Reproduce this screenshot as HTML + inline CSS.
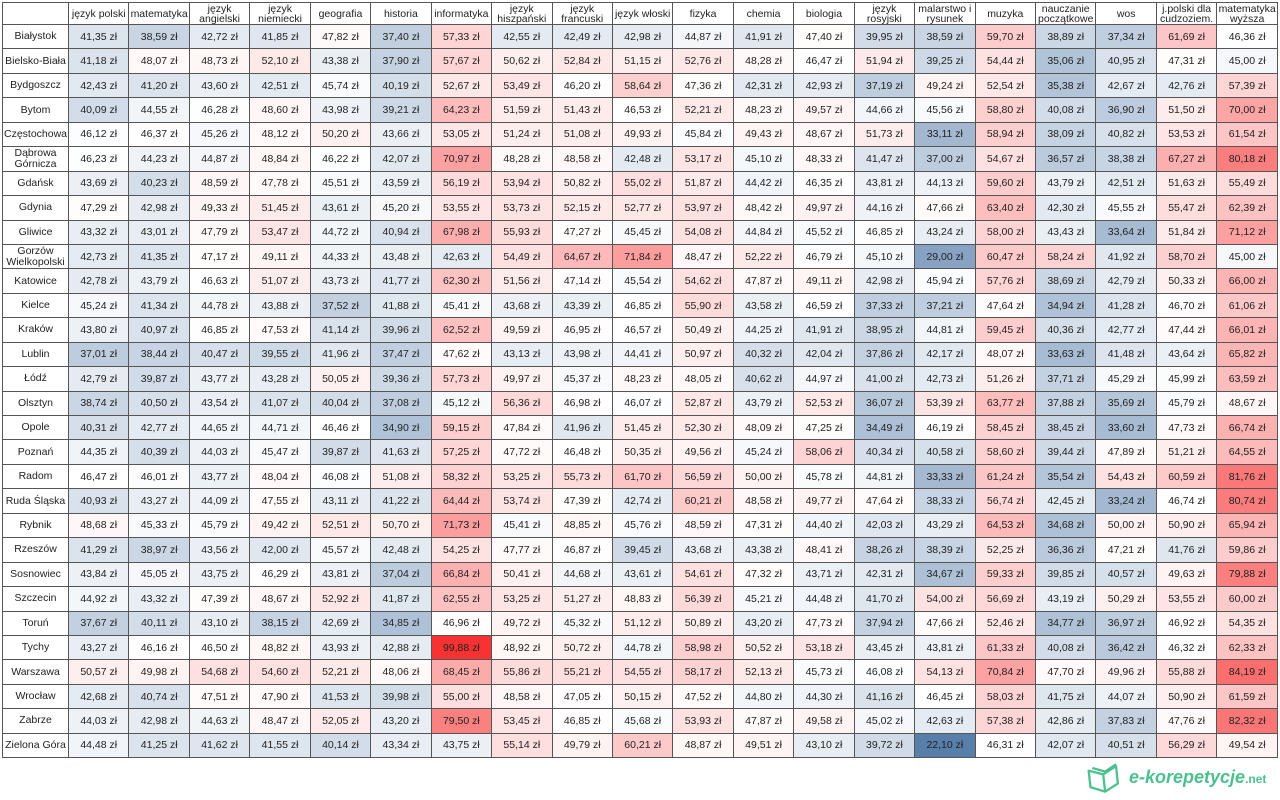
<!DOCTYPE html>
<html><head><meta charset="utf-8">
<style>
html,body{margin:0;padding:0;background:#fff;width:1280px;height:800px;overflow:hidden;font-family:"Liberation Sans",sans-serif;}
table{position:absolute;left:2px;top:2px;width:1276px;border-collapse:collapse;table-layout:fixed;font-size:10.5px;color:#222;}
td,th{border:1px solid #555;text-align:center;padding:0;overflow:hidden;white-space:nowrap;}
th{font-weight:normal;height:21px;line-height:10px;white-space:normal;font-size:10.5px;}
td{height:23.45px;}
td:first-child{font-size:10.5px;line-height:11px;white-space:normal;}
col.c0{width:66px}
.logo{position:absolute;left:1085px;top:760px;width:195px;height:36px;}
.logo .t{position:absolute;left:44px;top:7px;font-size:18px;font-weight:bold;font-style:italic;color:#4cc08f;white-space:nowrap;}
.logo .t span{font-size:12px;font-style:normal;}
</style></head><body>
<table id="t">
<colgroup><col class="c0"><col span="20"></colgroup>
<tr><th></th><th>język polski</th><th>matematyka</th><th>język angielski</th><th>język niemiecki</th><th>geografia</th><th>historia</th><th>informatyka</th><th>język hiszpański</th><th>język francuski</th><th>język włoski</th><th>fizyka</th><th>chemia</th><th>biologia</th><th>język rosyjski</th><th>malarstwo i rysunek</th><th>muzyka</th><th>nauczanie początkowe</th><th>wos</th><th>j.polski dla cudzoziem.</th><th>matematyka wyższa</th></tr>
<tr><td>Białystok</td><td>41,35 zł</td><td>38,59 zł</td><td>42,72 zł</td><td>41,85 zł</td><td>47,82 zł</td><td>37,40 zł</td><td>57,33 zł</td><td>42,55 zł</td><td>42,49 zł</td><td>42,98 zł</td><td>44,87 zł</td><td>41,91 zł</td><td>47,40 zł</td><td>39,95 zł</td><td>38,59 zł</td><td>59,70 zł</td><td>38,89 zł</td><td>37,34 zł</td><td>61,69 zł</td><td>46,36 zł</td></tr>
<tr><td>Bielsko-Biała</td><td>41,18 zł</td><td>48,07 zł</td><td>48,73 zł</td><td>52,10 zł</td><td>43,38 zł</td><td>37,90 zł</td><td>57,67 zł</td><td>50,62 zł</td><td>52,84 zł</td><td>51,15 zł</td><td>52,76 zł</td><td>48,28 zł</td><td>46,47 zł</td><td>51,94 zł</td><td>39,25 zł</td><td>54,44 zł</td><td>35,06 zł</td><td>40,95 zł</td><td>47,31 zł</td><td>45,00 zł</td></tr>
<tr><td>Bydgoszcz</td><td>42,43 zł</td><td>41,20 zł</td><td>43,60 zł</td><td>42,51 zł</td><td>45,74 zł</td><td>40,19 zł</td><td>52,67 zł</td><td>53,49 zł</td><td>46,20 zł</td><td>58,64 zł</td><td>47,36 zł</td><td>42,31 zł</td><td>42,93 zł</td><td>37,19 zł</td><td>49,24 zł</td><td>52,54 zł</td><td>35,38 zł</td><td>42,67 zł</td><td>42,76 zł</td><td>57,39 zł</td></tr>
<tr><td>Bytom</td><td>40,09 zł</td><td>44,55 zł</td><td>46,28 zł</td><td>48,60 zł</td><td>43,98 zł</td><td>39,21 zł</td><td>64,23 zł</td><td>51,59 zł</td><td>51,43 zł</td><td>46,53 zł</td><td>52,21 zł</td><td>48,23 zł</td><td>49,57 zł</td><td>44,66 zł</td><td>45,56 zł</td><td>58,80 zł</td><td>40,08 zł</td><td>36,90 zł</td><td>51,50 zł</td><td>70,00 zł</td></tr>
<tr><td>Częstochowa</td><td>46,12 zł</td><td>46,37 zł</td><td>45,26 zł</td><td>48,12 zł</td><td>50,20 zł</td><td>43,66 zł</td><td>53,05 zł</td><td>51,24 zł</td><td>51,08 zł</td><td>49,93 zł</td><td>45,84 zł</td><td>49,43 zł</td><td>48,67 zł</td><td>51,73 zł</td><td>33,11 zł</td><td>58,94 zł</td><td>38,09 zł</td><td>40,82 zł</td><td>53,53 zł</td><td>61,54 zł</td></tr>
<tr><td>Dąbrowa Górnicza</td><td>46,23 zł</td><td>44,23 zł</td><td>44,87 zł</td><td>48,84 zł</td><td>46,22 zł</td><td>42,07 zł</td><td>70,97 zł</td><td>48,28 zł</td><td>48,58 zł</td><td>42,48 zł</td><td>53,17 zł</td><td>45,10 zł</td><td>48,33 zł</td><td>41,47 zł</td><td>37,00 zł</td><td>54,67 zł</td><td>36,57 zł</td><td>38,38 zł</td><td>67,27 zł</td><td>80,18 zł</td></tr>
<tr><td>Gdańsk</td><td>43,69 zł</td><td>40,23 zł</td><td>48,59 zł</td><td>47,78 zł</td><td>45,51 zł</td><td>43,59 zł</td><td>56,19 zł</td><td>53,94 zł</td><td>50,82 zł</td><td>55,02 zł</td><td>51,87 zł</td><td>44,42 zł</td><td>46,35 zł</td><td>43,81 zł</td><td>44,13 zł</td><td>59,60 zł</td><td>43,79 zł</td><td>42,51 zł</td><td>51,63 zł</td><td>55,49 zł</td></tr>
<tr><td>Gdynia</td><td>47,29 zł</td><td>42,98 zł</td><td>49,33 zł</td><td>51,45 zł</td><td>43,61 zł</td><td>45,20 zł</td><td>53,55 zł</td><td>53,73 zł</td><td>52,15 zł</td><td>52,77 zł</td><td>53,97 zł</td><td>48,42 zł</td><td>49,97 zł</td><td>44,16 zł</td><td>47,66 zł</td><td>63,40 zł</td><td>42,30 zł</td><td>45,55 zł</td><td>55,47 zł</td><td>62,39 zł</td></tr>
<tr><td>Gliwice</td><td>43,32 zł</td><td>43,01 zł</td><td>47,79 zł</td><td>53,47 zł</td><td>44,72 zł</td><td>40,94 zł</td><td>67,98 zł</td><td>55,93 zł</td><td>47,27 zł</td><td>45,45 zł</td><td>54,08 zł</td><td>44,84 zł</td><td>45,52 zł</td><td>46,85 zł</td><td>43,24 zł</td><td>58,00 zł</td><td>43,43 zł</td><td>33,64 zł</td><td>51,84 zł</td><td>71,12 zł</td></tr>
<tr><td>Gorzów Wielkopolski</td><td>42,73 zł</td><td>41,35 zł</td><td>47,17 zł</td><td>49,11 zł</td><td>44,33 zł</td><td>43,48 zł</td><td>42,63 zł</td><td>54,49 zł</td><td>64,67 zł</td><td>71,84 zł</td><td>48,47 zł</td><td>52,22 zł</td><td>46,79 zł</td><td>45,10 zł</td><td>29,00 zł</td><td>60,47 zł</td><td>58,24 zł</td><td>41,92 zł</td><td>58,70 zł</td><td>45,00 zł</td></tr>
<tr><td>Katowice</td><td>42,78 zł</td><td>43,79 zł</td><td>46,63 zł</td><td>51,07 zł</td><td>43,73 zł</td><td>41,77 zł</td><td>62,30 zł</td><td>51,56 zł</td><td>47,14 zł</td><td>45,54 zł</td><td>54,62 zł</td><td>47,87 zł</td><td>49,11 zł</td><td>42,98 zł</td><td>45,94 zł</td><td>57,76 zł</td><td>38,69 zł</td><td>42,79 zł</td><td>50,33 zł</td><td>66,00 zł</td></tr>
<tr><td>Kielce</td><td>45,24 zł</td><td>41,34 zł</td><td>44,78 zł</td><td>43,88 zł</td><td>37,52 zł</td><td>41,88 zł</td><td>45,41 zł</td><td>43,68 zł</td><td>43,39 zł</td><td>46,85 zł</td><td>55,90 zł</td><td>43,58 zł</td><td>46,59 zł</td><td>37,33 zł</td><td>37,21 zł</td><td>47,64 zł</td><td>34,94 zł</td><td>41,28 zł</td><td>46,70 zł</td><td>61,06 zł</td></tr>
<tr><td>Kraków</td><td>43,80 zł</td><td>40,97 zł</td><td>46,85 zł</td><td>47,53 zł</td><td>41,14 zł</td><td>39,96 zł</td><td>62,52 zł</td><td>49,59 zł</td><td>46,95 zł</td><td>46,57 zł</td><td>50,49 zł</td><td>44,25 zł</td><td>41,91 zł</td><td>38,95 zł</td><td>44,81 zł</td><td>59,45 zł</td><td>40,36 zł</td><td>42,77 zł</td><td>47,44 zł</td><td>66,01 zł</td></tr>
<tr><td>Lublin</td><td>37,01 zł</td><td>38,44 zł</td><td>40,47 zł</td><td>39,55 zł</td><td>41,96 zł</td><td>37,47 zł</td><td>47,62 zł</td><td>43,13 zł</td><td>43,98 zł</td><td>44,41 zł</td><td>50,97 zł</td><td>40,32 zł</td><td>42,04 zł</td><td>37,86 zł</td><td>42,17 zł</td><td>48,07 zł</td><td>33,63 zł</td><td>41,48 zł</td><td>43,64 zł</td><td>65,82 zł</td></tr>
<tr><td>Łódź</td><td>42,79 zł</td><td>39,87 zł</td><td>43,77 zł</td><td>43,28 zł</td><td>50,05 zł</td><td>39,36 zł</td><td>57,73 zł</td><td>49,97 zł</td><td>45,37 zł</td><td>48,23 zł</td><td>48,05 zł</td><td>40,62 zł</td><td>44,97 zł</td><td>41,00 zł</td><td>42,73 zł</td><td>51,26 zł</td><td>37,71 zł</td><td>45,29 zł</td><td>45,99 zł</td><td>63,59 zł</td></tr>
<tr><td>Olsztyn</td><td>38,74 zł</td><td>40,50 zł</td><td>43,54 zł</td><td>41,07 zł</td><td>40,04 zł</td><td>37,08 zł</td><td>45,12 zł</td><td>56,36 zł</td><td>46,98 zł</td><td>46,07 zł</td><td>52,87 zł</td><td>43,79 zł</td><td>52,53 zł</td><td>36,07 zł</td><td>53,39 zł</td><td>63,77 zł</td><td>37,88 zł</td><td>35,69 zł</td><td>45,79 zł</td><td>48,67 zł</td></tr>
<tr><td>Opole</td><td>40,31 zł</td><td>42,77 zł</td><td>44,65 zł</td><td>44,71 zł</td><td>46,46 zł</td><td>34,90 zł</td><td>59,15 zł</td><td>47,84 zł</td><td>41,96 zł</td><td>51,45 zł</td><td>52,30 zł</td><td>48,09 zł</td><td>47,25 zł</td><td>34,49 zł</td><td>46,19 zł</td><td>58,45 zł</td><td>38,45 zł</td><td>33,60 zł</td><td>47,73 zł</td><td>66,74 zł</td></tr>
<tr><td>Poznań</td><td>44,35 zł</td><td>40,39 zł</td><td>44,03 zł</td><td>45,47 zł</td><td>39,87 zł</td><td>41,63 zł</td><td>57,25 zł</td><td>47,72 zł</td><td>46,48 zł</td><td>50,35 zł</td><td>49,56 zł</td><td>45,24 zł</td><td>58,06 zł</td><td>40,34 zł</td><td>40,58 zł</td><td>58,60 zł</td><td>39,44 zł</td><td>47,89 zł</td><td>51,21 zł</td><td>64,55 zł</td></tr>
<tr><td>Radom</td><td>46,47 zł</td><td>46,01 zł</td><td>43,77 zł</td><td>48,04 zł</td><td>46,08 zł</td><td>51,08 zł</td><td>58,32 zł</td><td>53,25 zł</td><td>55,73 zł</td><td>61,70 zł</td><td>56,59 zł</td><td>50,00 zł</td><td>45,78 zł</td><td>44,81 zł</td><td>33,33 zł</td><td>61,24 zł</td><td>35,54 zł</td><td>54,43 zł</td><td>60,59 zł</td><td>81,76 zł</td></tr>
<tr><td>Ruda Śląska</td><td>40,93 zł</td><td>43,27 zł</td><td>44,09 zł</td><td>47,55 zł</td><td>43,11 zł</td><td>41,22 zł</td><td>64,44 zł</td><td>53,74 zł</td><td>47,39 zł</td><td>42,74 zł</td><td>60,21 zł</td><td>48,58 zł</td><td>49,77 zł</td><td>47,64 zł</td><td>38,33 zł</td><td>56,74 zł</td><td>42,45 zł</td><td>33,24 zł</td><td>46,74 zł</td><td>80,74 zł</td></tr>
<tr><td>Rybnik</td><td>48,68 zł</td><td>45,33 zł</td><td>45,79 zł</td><td>49,42 zł</td><td>52,51 zł</td><td>50,70 zł</td><td>71,73 zł</td><td>45,41 zł</td><td>48,85 zł</td><td>45,76 zł</td><td>48,59 zł</td><td>47,31 zł</td><td>44,40 zł</td><td>42,03 zł</td><td>43,29 zł</td><td>64,53 zł</td><td>34,68 zł</td><td>50,00 zł</td><td>50,90 zł</td><td>65,94 zł</td></tr>
<tr><td>Rzeszów</td><td>41,29 zł</td><td>38,97 zł</td><td>43,56 zł</td><td>42,00 zł</td><td>45,57 zł</td><td>42,48 zł</td><td>54,25 zł</td><td>47,77 zł</td><td>46,87 zł</td><td>39,45 zł</td><td>43,68 zł</td><td>43,38 zł</td><td>48,41 zł</td><td>38,26 zł</td><td>38,39 zł</td><td>52,25 zł</td><td>36,36 zł</td><td>47,21 zł</td><td>41,76 zł</td><td>59,86 zł</td></tr>
<tr><td>Sosnowiec</td><td>43,84 zł</td><td>45,05 zł</td><td>43,75 zł</td><td>46,29 zł</td><td>43,81 zł</td><td>37,04 zł</td><td>66,84 zł</td><td>50,41 zł</td><td>44,68 zł</td><td>43,61 zł</td><td>54,61 zł</td><td>47,32 zł</td><td>43,71 zł</td><td>42,31 zł</td><td>34,67 zł</td><td>59,33 zł</td><td>39,85 zł</td><td>40,57 zł</td><td>49,63 zł</td><td>79,88 zł</td></tr>
<tr><td>Szczecin</td><td>44,92 zł</td><td>43,32 zł</td><td>47,39 zł</td><td>48,67 zł</td><td>52,92 zł</td><td>41,87 zł</td><td>62,55 zł</td><td>53,25 zł</td><td>51,27 zł</td><td>48,83 zł</td><td>56,39 zł</td><td>45,21 zł</td><td>44,48 zł</td><td>41,70 zł</td><td>54,00 zł</td><td>56,69 zł</td><td>43,19 zł</td><td>50,29 zł</td><td>53,55 zł</td><td>60,00 zł</td></tr>
<tr><td>Toruń</td><td>37,67 zł</td><td>40,11 zł</td><td>43,10 zł</td><td>38,15 zł</td><td>42,69 zł</td><td>34,85 zł</td><td>46,96 zł</td><td>49,72 zł</td><td>45,32 zł</td><td>51,12 zł</td><td>50,89 zł</td><td>43,20 zł</td><td>47,73 zł</td><td>37,94 zł</td><td>47,66 zł</td><td>52,46 zł</td><td>34,77 zł</td><td>36,97 zł</td><td>46,92 zł</td><td>54,35 zł</td></tr>
<tr><td>Tychy</td><td>43,27 zł</td><td>46,16 zł</td><td>46,50 zł</td><td>48,82 zł</td><td>43,93 zł</td><td>42,88 zł</td><td>99,88 zł</td><td>48,92 zł</td><td>50,72 zł</td><td>44,78 zł</td><td>58,98 zł</td><td>50,52 zł</td><td>53,18 zł</td><td>43,45 zł</td><td>43,81 zł</td><td>61,33 zł</td><td>40,08 zł</td><td>36,42 zł</td><td>46,32 zł</td><td>62,33 zł</td></tr>
<tr><td>Warszawa</td><td>50,57 zł</td><td>49,98 zł</td><td>54,68 zł</td><td>54,60 zł</td><td>52,21 zł</td><td>48,06 zł</td><td>68,45 zł</td><td>55,86 zł</td><td>55,21 zł</td><td>54,55 zł</td><td>58,17 zł</td><td>52,13 zł</td><td>45,73 zł</td><td>46,08 zł</td><td>54,13 zł</td><td>70,84 zł</td><td>47,70 zł</td><td>49,96 zł</td><td>55,88 zł</td><td>84,19 zł</td></tr>
<tr><td>Wrocław</td><td>42,68 zł</td><td>40,74 zł</td><td>47,51 zł</td><td>47,90 zł</td><td>41,53 zł</td><td>39,98 zł</td><td>55,00 zł</td><td>48,58 zł</td><td>47,05 zł</td><td>50,15 zł</td><td>47,52 zł</td><td>44,80 zł</td><td>44,30 zł</td><td>41,16 zł</td><td>46,45 zł</td><td>58,03 zł</td><td>41,75 zł</td><td>44,07 zł</td><td>50,90 zł</td><td>61,59 zł</td></tr>
<tr><td>Zabrze</td><td>44,03 zł</td><td>42,98 zł</td><td>44,63 zł</td><td>48,47 zł</td><td>52,05 zł</td><td>43,20 zł</td><td>79,50 zł</td><td>53,45 zł</td><td>46,85 zł</td><td>45,68 zł</td><td>53,93 zł</td><td>47,87 zł</td><td>49,58 zł</td><td>45,02 zł</td><td>42,63 zł</td><td>57,38 zł</td><td>42,86 zł</td><td>37,83 zł</td><td>47,76 zł</td><td>82,32 zł</td></tr>
<tr><td>Zielona Góra</td><td>44,48 zł</td><td>41,25 zł</td><td>41,62 zł</td><td>41,55 zł</td><td>40,14 zł</td><td>43,34 zł</td><td>43,75 zł</td><td>55,14 zł</td><td>49,79 zł</td><td>60,21 zł</td><td>48,87 zł</td><td>49,51 zł</td><td>43,10 zł</td><td>39,72 zł</td><td>22,10 zł</td><td>46,31 zł</td><td>42,07 zł</td><td>40,51 zł</td><td>56,29 zł</td><td>49,54 zł</td></tr>
</table>
<div class="logo">
<svg width="42" height="36" viewBox="0 0 46 36" style="position:absolute;left:0;top:0">
<g fill="none" stroke="#4cc08f" stroke-width="2.5" stroke-linejoin="round">
<path d="M4 10 L20 14 L22 33 L6 28 Z"/>
<path d="M22 33 L36 24 L34 5 L20 14"/>
<path d="M8 7 L22 11 L34 3"/>
</g></svg>
<div class="t">e-korepetycje<span>.net</span></div>
</div>
<script>
document.querySelectorAll('#t tr').forEach(function(tr,i){if(!i)return;
tr.querySelectorAll('td').forEach(function(td,j){if(!j)return;
var v=parseFloat(td.textContent.replace(',','.'));var m=46.5,r,g,b;
if(v>=m){var t=Math.min(1,(v-m)/(99.88-m));r=255-t*7;g=255-t*205;b=255-t*205;}
else{var t=Math.min(1,(m-v)/(m-22.1));r=255-t*167;g=255-t*129;b=255-t*85;}
td.style.background='rgb('+Math.round(r)+','+Math.round(g)+','+Math.round(b)+')';});});
</script>
</body></html>
